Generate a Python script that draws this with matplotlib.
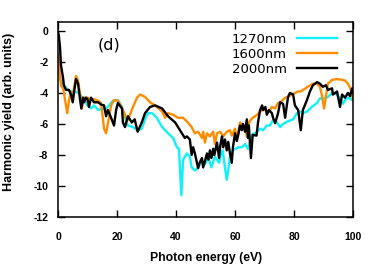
import numpy as np
import matplotlib
matplotlib.use("Agg")
import matplotlib.pyplot as plt

# harmonic yield (log scale, arb. units) vs photon energy (eV)
E_1270 = [0, 0.7, 1.2, 2.4, 3.4, 4.4, 5.4, 7.1, 8.8, 10,
          11.2, 12.2, 13.6, 15.2, 16.3, 17.3, 18.6, 20.3, 21.7, 22.7,
          23.7, 25.4, 27, 28.4, 29.5, 30.5, 31.9, 33.5, 35.3, 37.3,
          39, 40.3, 41, 41.8, 42.4, 43.7, 44.7, 45.3, 46.4, 47.5,
          48.8, 49.8, 51, 52, 53.2, 54.6, 55.3, 55.8, 56.6, 57.2,
          57.7, 58.3, 59.3, 61.1, 62.3, 63.4, 64.4, 65.8, 67.5, 68.5,
          69.5, 70.8, 71.8, 72.9, 74, 75.3, 76.3, 77.6, 79.7, 81,
          82, 83, 84.4, 86, 87.8, 88.8, 90.5, 91.5, 92.9, 94,
          95.6, 96.6, 97.5, 98.5, 100]
Y_1270 = [-1.8, -3.1, -3.3, -3.6, -3.8, -3.9, -3.9, -4.0, -4.45, -4.8,
          -5.0, -4.8, -5.1, -5.0, -5.0, -4.8, -4.5, -4.45, -4.9, -5.6,
          -6.1, -6.2, -6.4, -6.3, -5.7, -5.3, -5.3, -5.6, -6.2, -6.6,
          -6.9, -7.5, -7.6, -10.6, -8.3, -7.9, -8.1, -8.8, -9.0, -8.8,
          -8.4, -8.6, -8.2, -8.8, -8.1, -8.5, -7.9, -7.7, -8.8, -9.6,
          -9.0, -8.1, -7.7, -7.5, -7.5, -7.3, -7.6, -6.7, -6.5, -6.3,
          -6.4, -6.1, -6.1, -5.75, -5.85, -6.2, -6.0, -5.85, -5.7, -5.3,
          -5.2, -5.3, -5.2, -4.9, -4.65, -4.35, -4.35, -4.25, -4.0, -4.0,
          -4.35, -4.7, -4.4, -4.3, -4.5]

E_1600 = [0, 0.5, 1, 1.7, 2, 2.7, 3.1, 3.7, 4.4, 5,
          5.4, 6.1, 6.8, 7.5, 8.1, 8.8, 10, 11.2, 12.2, 13.6,
          14.6, 15.2, 15.6, 16.3, 17.3, 18, 19, 20.3, 21.5, 22.5,
          23.5, 24.4, 25.4, 26.8, 27.8, 29.5, 31.2, 32.9, 35.3, 36.3,
          37.3, 39, 40.7, 42.4, 44, 45.3, 46.4, 47.5, 48.8, 49.2,
          49.8, 50.5, 51.5, 52.6, 53.2, 53.9, 55, 56, 57.2, 58.3,
          58.9, 60, 60.6, 61.7, 62.7, 63.4, 64, 64.4, 65, 66,
          67.5, 69.2, 70.3, 71.5, 72.5, 73.6, 74.6, 75.7, 77, 78,
          79.3, 80.3, 81.4, 82.3, 84.7, 86.4, 87.8, 88.8, 89.5, 90.2,
          91, 91.5, 92.9, 94.6, 96.3, 97.3, 98.3, 99.3, 100]
Y_1600 = [-1.5, -2.5, -3.5, -3.7, -4.0, -4.8, -5.3, -4.5, -3.9, -4.5,
          -3.7, -2.9, -3.2, -4.1, -5.0, -4.3, -4.3, -4.4, -4.4, -4.5,
          -4.65, -5.6, -6.3, -6.6, -5.6, -4.8, -4.45, -4.5, -4.9, -5.3,
          -5.8, -5.4, -4.9, -4.3, -4.1, -4.25, -4.6, -4.8, -5.2, -5.6,
          -5.3, -5.4, -5.6, -5.6, -5.9, -6.2, -6.6, -6.5, -6.9, -6.5,
          -7.2, -6.6, -6.8, -6.5, -7.3, -6.6, -6.5, -6.8, -6.5, -6.4,
          -6.75, -6.3, -7.0, -5.9, -6.2, -6.1, -6.8, -6.2, -5.8, -5.6,
          -5.4, -5.1, -5.1, -5.2, -4.9, -5.0, -4.65, -4.55, -4.3, -4.25,
          -4.1, -4.0, -3.9, -3.9, -3.6, -3.4, -3.4, -3.6, -4.2, -5.0,
          -4.0, -3.4, -3.15, -3.1, -3.15, -3.2, -3.4, -3.8, -4.45]

E_2000 = [0, 0.3, 0.7, 1, 1.7, 2, 2.7, 3.7, 4.4, 5,
          5.4, 6.1, 6.8, 7.5, 7.9, 8.5, 8.8, 9.5, 10, 10.5,
          11.2, 12.2, 13.6, 14.6, 15.6, 16.3, 16.9, 18, 19, 19.7,
          20.3, 21.7, 22, 22.7, 23.7, 25, 26, 27, 28.4, 29.5,
          31.2, 32.9, 35.3, 37.3, 39.7, 42, 43, 43.7, 44.7, 45.3,
          45.8, 46.4, 47.5, 48, 48.8, 49.2, 49.8, 50.5, 51, 51.5,
          52, 52.6, 53, 53.9, 54.6, 55, 55.6, 56, 56.6, 57.2,
          57.7, 58.3, 58.9, 59.3, 60, 60.6, 61.1, 61.7, 62.3, 62.7,
          63.4, 64, 64.4, 64.7, 65.4, 66, 67.3, 67.8, 68.5, 69.2,
          69.5, 70.3, 70.8, 71.5, 72.5, 72.9, 73.6, 74.6, 75.3, 76.3,
          77, 77.6, 78, 78.6, 79.7, 80.3, 81.4, 82.3, 83, 84.4,
          85.4, 86.4, 87.8, 88.8, 89.8, 90.8, 91.5, 92.9, 93.2, 94.6,
          95.6, 96.3, 97.3, 98.3, 99, 99.7, 100]
Y_2000 = [-0.05, -0.3, -1.1, -2.2, -3.0, -3.5, -3.8, -3.8, -4.1, -4.6,
          -4.0, -3.1, -3.4, -4.45, -5.0, -4.3, -4.6, -4.3, -4.4, -4.9,
          -4.3, -4.6, -4.6, -4.75, -4.8, -5.5, -5.1, -5.6, -6.1, -5.1,
          -4.65, -5.0, -5.9, -6.2, -5.5, -5.9, -5.7, -6.5, -5.9, -5.3,
          -4.9, -4.8, -5.0, -5.5, -5.9, -6.6, -6.9, -6.8, -7.0, -8.0,
          -7.5, -7.9, -8.85, -8.5, -8.2, -8.8, -8.4, -7.9, -8.3, -7.7,
          -8.2, -7.6, -8.0, -7.2, -8.2, -7.4, -6.8, -7.5, -7.0, -7.7,
          -7.15, -7.9, -8.5, -7.5, -6.6, -7.1, -6.7, -6.1, -6.4, -6.0,
          -6.5, -5.7, -6.9, -6.1, -8.2, -6.7, -6.75, -5.9, -5.1, -4.8,
          -5.1, -4.9, -5.4, -5.1, -5.3, -5.6, -5.95, -5.3, -4.6, -4.7,
          -5.6, -4.75, -4.25, -4.0, -4.1, -4.8, -5.1, -6.4, -5.1, -4.45,
          -3.9, -3.5, -3.3, -3.4, -3.6, -3.5, -3.8, -3.7, -4.1, -3.9,
          -4.9, -4.1, -4.3, -4.0, -4.2, -3.7, -3.9]

x_ticks = [0, 20, 40, 60, 80, 100]
y_ticks = [0, -2, -4, -6, -8, -10, -12]

BOLD = dict(family="Liberation Sans", weight="bold")

fig = plt.figure(figsize=(3.8, 2.72), dpi=100)
ax = fig.add_axes([58 / 380, 1 - 217 / 272, 295 / 380, 195 / 272])

ax.plot(E_1270, Y_1270, color="#10f0f8", lw=1.7, label="1270nm")
ax.plot(E_1600, Y_1600, color="#ff8c00", lw=1.7, label="1600nm")
ax.plot(E_2000, Y_2000, color="black", lw=1.7, label="2000nm")

ax.set_xlim(0, 100)
ax.set_ylim(-12, 0.58)
ax.set_xticks(x_ticks)
ax.set_yticks(y_ticks)
ax.set_xticklabels([str(t) for t in x_ticks], fontdict=dict(size=7.5, **BOLD))
ax.set_yticklabels([str(t) for t in y_ticks], fontdict=dict(size=7.5, **BOLD))
ax.tick_params(direction="in", length=5, width=1, top=True, right=True)
ax.tick_params(axis="x", pad=11)
ax.tick_params(axis="y", pad=7)
for s in ax.spines.values():
    s.set_linewidth(1.1)

ax.text(13.3, -0.9, "(d)", fontsize=11.5, family="DejaVu Sans", va="center")

ax.legend(loc="upper right", bbox_to_anchor=(0.946, 0.945), frameon=False,
          markerfirst=False, handlelength=3.0, handletextpad=0.8,
          labelspacing=0.15, borderpad=0, borderaxespad=0,
          prop=dict(family="DejaVu Sans", size=9.5))

fig.text(206 / 380, 1 - 258 / 272, "Photon energy (eV)", ha="center", va="center",
         fontsize=8.8, **BOLD)
fig.text(9 / 380, 1 - 112 / 272, "Harmonic yield (arb. units)", ha="center", va="center",
         rotation=90, fontsize=9, **BOLD)

fig.savefig("out.png", dpi=100)
